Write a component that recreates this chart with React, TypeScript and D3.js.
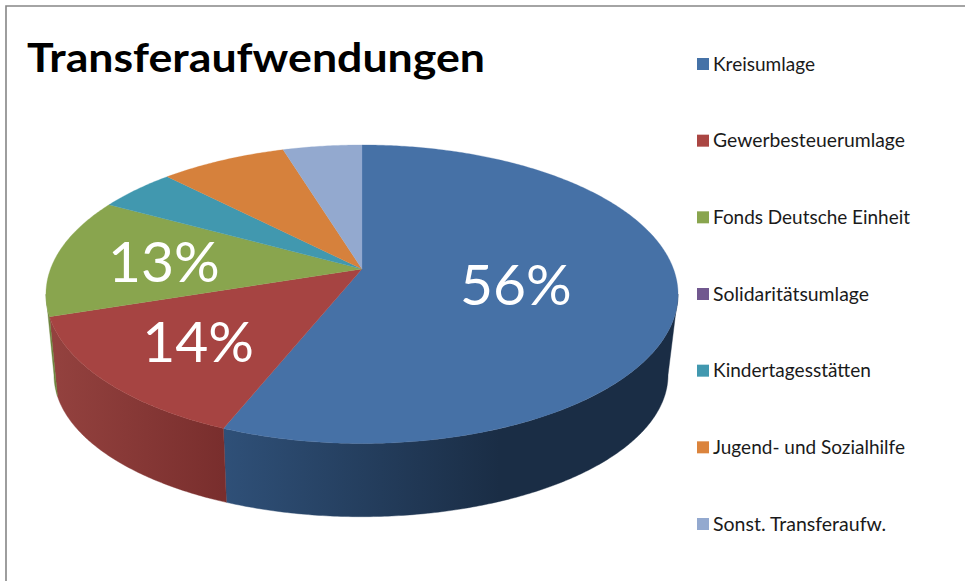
import React from "react";
import * as d3 from "d3";

const categories = ["Kreisumlage", "Gewerbesteuerumlage", "Fonds Deutsche Einheit", "Solidaritätsumlage", "Kindertagesstätten", "Jugend- und Sozialhilfe", "Sonst. Transferaufw."];
const values = [56.12, 13.83, 13.0, 0, 4.7, 7.6, 4.75];
const colors = ["#4671a6", "#a64442", "#89a54e", "#71588f", "#4198af", "#d6813c", "#93a9cf"];
const legendColors = ["#4572a7", "#aa4643", "#89a54e", "#71588f", "#4198af", "#db843d", "#93a9cf"];
const labelTexts = ["56%", "14%", "13%", "", "", "", ""];
const labelRadii = [0.495, 0.665, 0.645, 0, 0, 0, 0];
const legendTextWidths = [102, 192, 197, 156, 158, 192, 173];
const sideStops: [string, string][] = [["#2f5078", "#1a2d45"], ["#94423f", "#792e2d"], ["#6d843d", "#6d843d"], ["#5a4672", "#5a4672"], ["#337a8c", "#337a8c"], ["#ab6730", "#ab6730"], ["#7587a5", "#7587a5"]];

const W = 965, H = 581;
const K = 0.169;
const TOP = { cx: 362, cy: 269, a: 311.5, b: 145 };
const BOTTOM = { cx: 361, cy: 351, a: 302.6, b: 137.7 };
const SIDE_LIMIT = [(99.7 * Math.PI) / 180, (260.3 * Math.PI) / 180];

const project = (f: typeof TOP, t: number, r = 1): [number, number] => {
  const u = r * Math.sin(t), v = -r * Math.cos(t), w = 1 - K * v;
  return [f.cx + (f.a * u) / w, f.cy + (f.b * v) / w];
};
const samples = (t0: number, t1: number) => {
  const n = Math.max(2, Math.ceil((t1 - t0) / 0.01));
  return d3.range(n + 1).map((i) => t0 + ((t1 - t0) * i) / n);
};
const line = d3.line();
const pie = d3.pie<number>().sort(null).value((d) => d);
const arcs = pie(values);
const legendY = d3.scalePoint<string>().domain(categories).range([64, 524]);
const FONT = "Lato, Carlito, sans-serif";

export default function App() {
  const frontSlices = arcs
    .map((a, i) => ({ i, t0: Math.max(a.startAngle, SIDE_LIMIT[0]), t1: Math.min(a.endAngle, SIDE_LIMIT[1]) }))
    .filter((s) => s.t1 > s.t0);
  return (
    <svg width={W} height={H} style={{ position: "absolute", left: 0, top: 0, background: "#fff" }}>
      <defs>
        {frontSlices.map(({ i, t0, t1 }) => {
          const x0 = project(TOP, t1)[0], x1 = i === 0 ? 500 : project(TOP, t0)[0];
          return (
            <linearGradient key={i} id={`side${i}`} gradientUnits="userSpaceOnUse" x1={x0} x2={x1} y1={0} y2={0}>
              <stop offset="0" stopColor={sideStops[i][0]} />
              <stop offset="1" stopColor={sideStops[i][1]} />
            </linearGradient>
          );
        })}
      </defs>
      <path d="M6,581V6H965" fill="none" stroke="#868686" strokeWidth={1.6} />
      <text x={27} y={72} fontFamily={FONT} fontWeight={700} fontSize={41} fill="#000" textLength={458} lengthAdjust="spacingAndGlyphs">Transferaufwendungen</text>

      {frontSlices.map(({ i, t0, t1 }) => {
        const ts = samples(t0, t1);
        const pts = [...ts.map((t) => project(TOP, t)), ...ts.slice().reverse().map((t) => project(BOTTOM, t))];
        return <path key={i} d={line(pts) + "Z"} fill={`url(#side${i})`} stroke={`url(#side${i})`} strokeWidth={0.4} />;
      })}

      {arcs.map((a, i) =>
        a.endAngle > a.startAngle ? (
          <path key={i} d={line([[TOP.cx, TOP.cy], ...samples(a.startAngle, a.endAngle).map((t) => project(TOP, t))]) + "Z"} fill={colors[i]} stroke={colors[i]} strokeWidth={0.3} />
        ) : null
      )}

      {arcs.map((a, i) => {
        if (!labelTexts[i]) return null;
        const [x, y] = project(TOP, (a.startAngle + a.endAngle) / 2, labelRadii[i]);
        return <text key={i} x={x} y={y} dy="0.38em" textAnchor="middle" fontFamily={FONT} fontSize={57} fill="#fff">{labelTexts[i]}</text>;
      })}

      {categories.map((c, i) => {
        const y = legendY(c)!;
        return (
          <g key={c}>
            <rect x={697} y={y - 6} width={12} height={12} fill={legendColors[i]} />
            <text x={713} y={y + 6.5} fontFamily={FONT} fontSize={19} fill="#1a1a1a" textLength={legendTextWidths[i]} lengthAdjust="spacingAndGlyphs">{c}</text>
          </g>
        );
      })}
    </svg>
  );
}
